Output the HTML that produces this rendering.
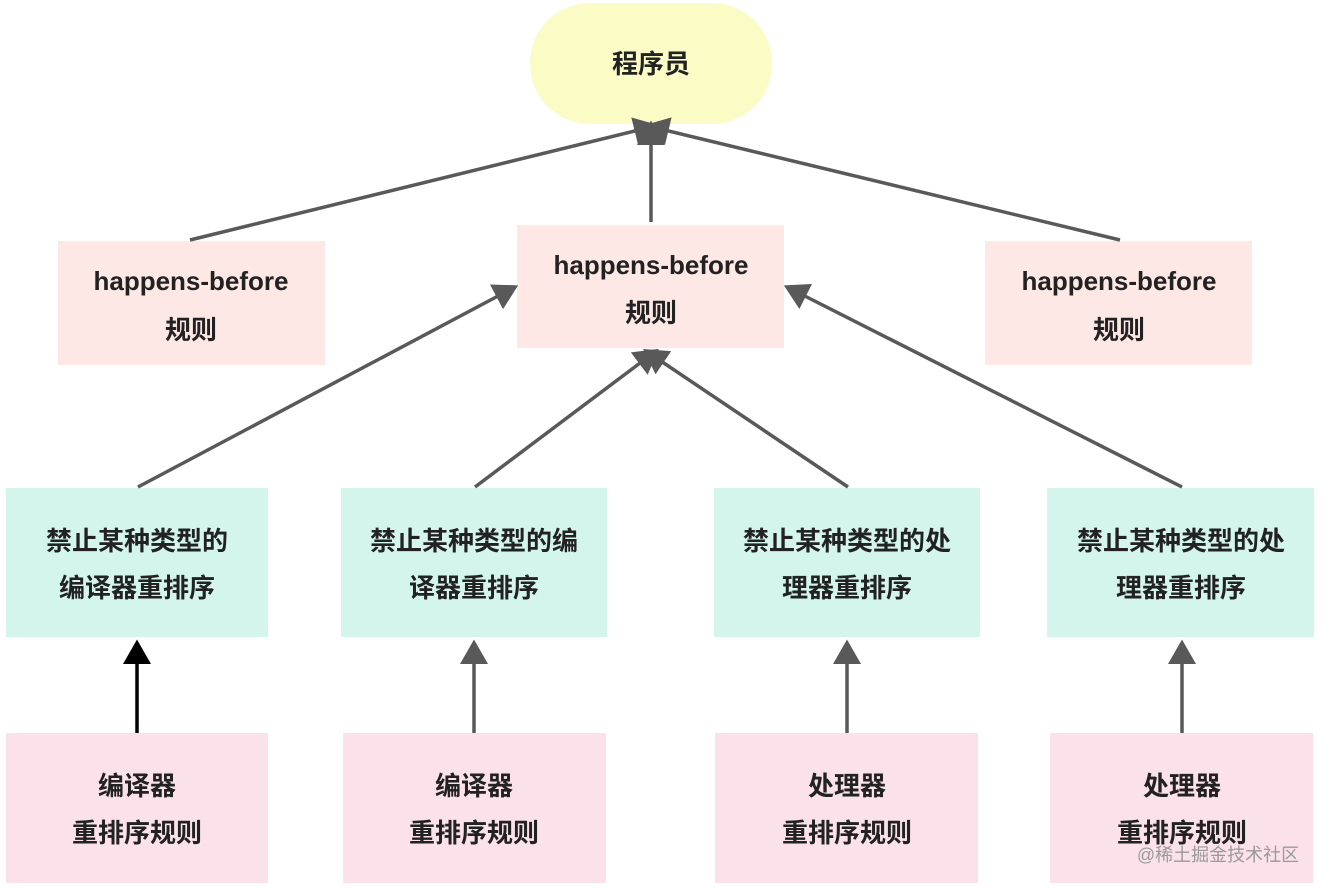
<!DOCTYPE html>
<html><head><meta charset="utf-8"><style>
html,body{margin:0;padding:0;background:#fff;}
svg{display:block;}
text{font-family:"Liberation Sans","Noto Sans CJK SC",sans-serif;font-weight:bold;font-size:26px;fill:#222;text-anchor:middle;}
</style></head><body>
<svg width="1322" height="888" viewBox="0 0 1322 888" xmlns="http://www.w3.org/2000/svg">
<defs>
<marker id="a" markerWidth="8" markerHeight="8" refX="6" refY="4" orient="auto" markerUnits="strokeWidth"><path d="M0,0 L7,4 L0,8 Z" fill="#595959"/></marker>
<marker id="b" markerWidth="8" markerHeight="8" refX="6" refY="4" orient="auto" markerUnits="strokeWidth"><path d="M0,0 L7,4 L0,8 Z" fill="#000"/></marker>
</defs>
<rect x="530" y="3" width="242" height="121" rx="60" fill="#fbfbc6"/>
<text x="651" y="73">程序员</text>
<rect x="58" y="241" width="267" height="124" fill="#fde8e6"/>
<rect x="517" y="225" width="267" height="123" fill="#fde8e6"/>
<rect x="985" y="241" width="267" height="124" fill="#fde8e6"/>
<text x="191" y="290">happens-before</text><text x="191" y="339">规则</text>
<text x="651" y="274">happens-before</text><text x="651" y="322">规则</text>
<text x="1119" y="290">happens-before</text><text x="1119" y="339">规则</text>
<g fill="#d3f5ec">
<rect x="6" y="488" width="262" height="149"/><rect x="341" y="488" width="266" height="149"/>
<rect x="714" y="488" width="266" height="149"/><rect x="1047" y="488" width="267" height="149"/>
</g>
<text x="137" y="550">禁止某种类型的</text><text x="137" y="597">编译器重排序</text>
<text x="474" y="550">禁止某种类型的编</text><text x="474" y="597">译器重排序</text>
<text x="847" y="550">禁止某种类型的处</text><text x="847" y="597">理器重排序</text>
<text x="1181" y="550">禁止某种类型的处</text><text x="1181" y="597">理器重排序</text>
<g fill="#fae1ea">
<rect x="6" y="733" width="262" height="150"/><rect x="343" y="733" width="263" height="150"/>
<rect x="715" y="733" width="263" height="150"/><rect x="1050" y="733" width="263" height="150"/>
</g>
<text x="137" y="795">编译器</text><text x="137" y="842">重排序规则</text>
<text x="474" y="795">编译器</text><text x="474" y="842">重排序规则</text>
<text x="847" y="795">处理器</text><text x="847" y="842">重排序规则</text>
<text x="1182" y="795">处理器</text><text x="1182" y="842">重排序规则</text>
<text x="1218" y="861" style="font-weight:normal;font-size:18px;fill:#9a9a9a">@稀土掘金技术社区</text>
<g stroke="#595959" stroke-width="3.5" fill="none" marker-end="url(#a)">
<line x1="190" y1="240" x2="655" y2="126"/>
<line x1="651" y1="222" x2="651" y2="124"/>
<line x1="1120" y1="240" x2="648" y2="126"/>
<line x1="138" y1="487" x2="515" y2="287"/>
<line x1="475" y1="487" x2="656" y2="351"/>
<line x1="848" y1="487" x2="646" y2="351"/>
<line x1="1182" y1="487" x2="787" y2="287"/>
<line x1="474" y1="733" x2="474" y2="643"/>
<line x1="847" y1="733" x2="847" y2="643"/>
<line x1="1182" y1="733" x2="1182" y2="643"/>
</g>
<line x1="137" y1="733" x2="137" y2="643" stroke="#000" stroke-width="3.5" marker-end="url(#b)"/>
</svg>
</body></html>
